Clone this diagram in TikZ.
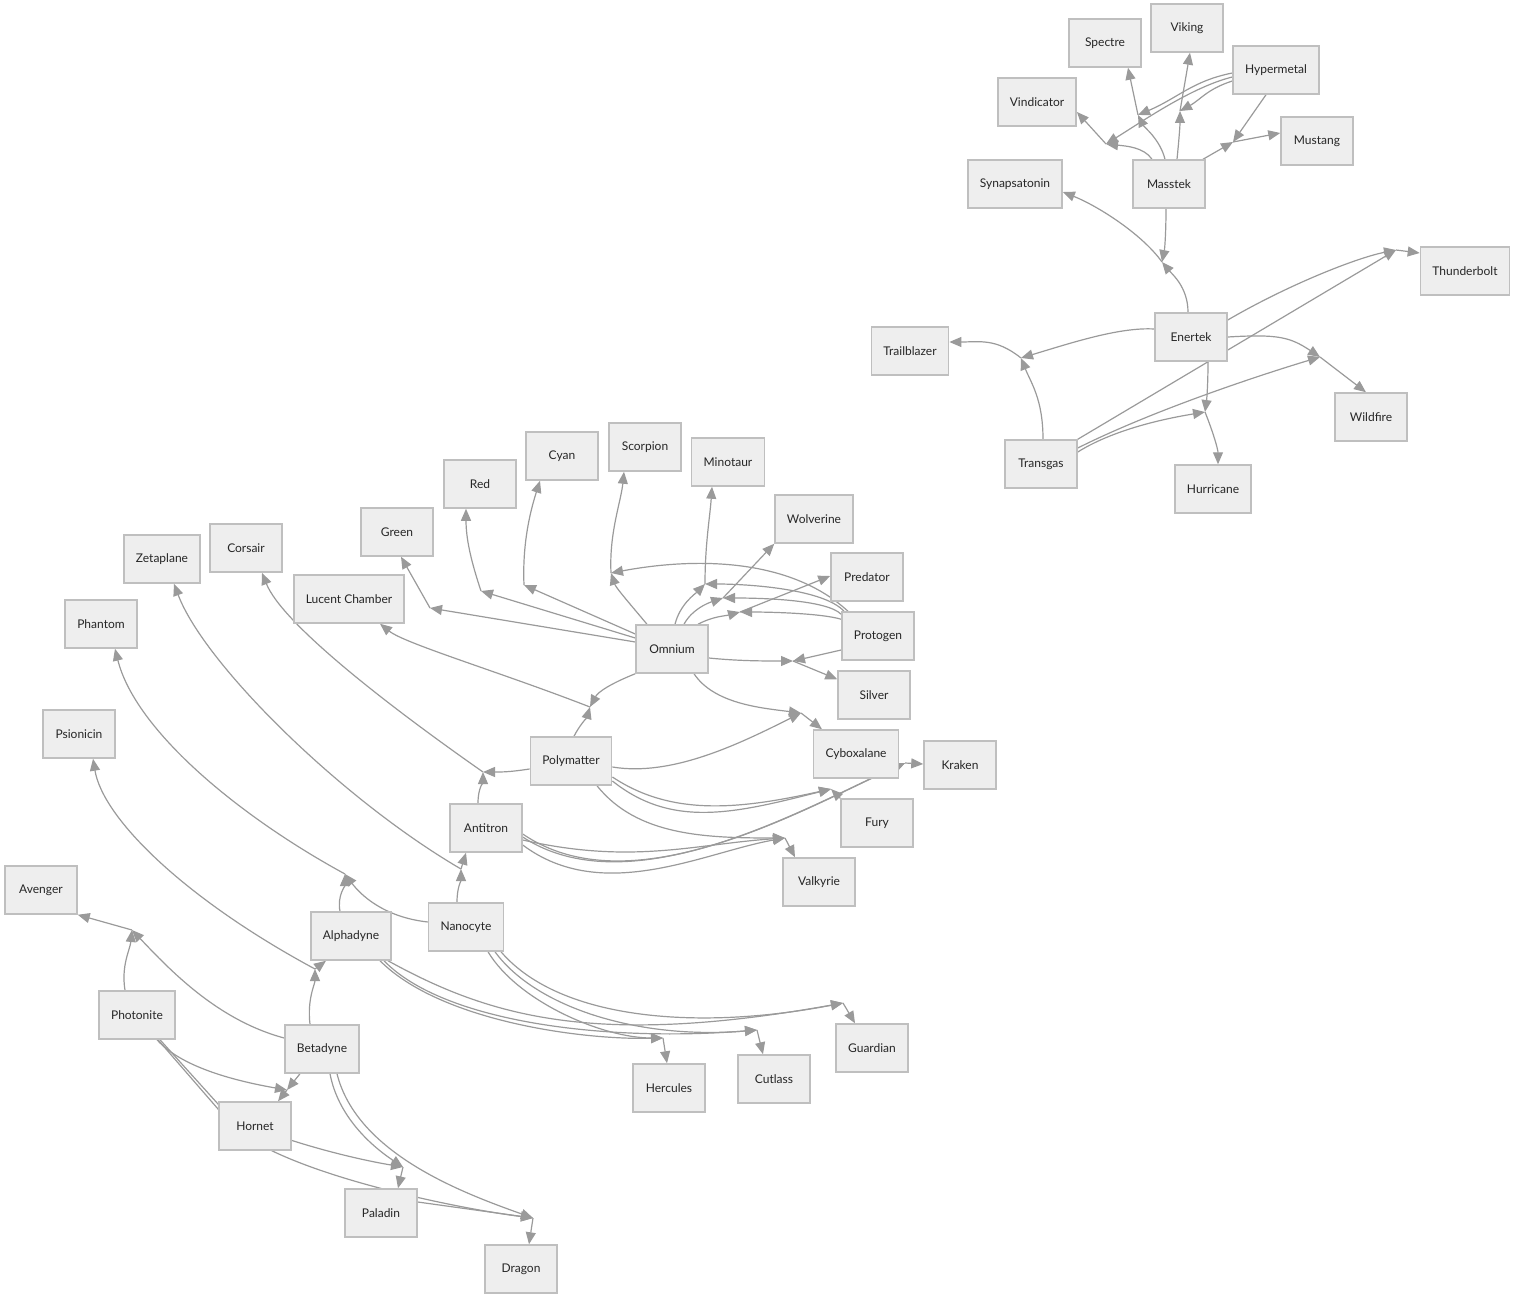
\documentclass[tikz,border=0pt]{standalone}
\usepackage{fontspec}
\setmainfont{Lato}
\usetikzlibrary{arrows.meta,backgrounds}
\definecolor{boxfill}{HTML}{EEEEEE}
\definecolor{boxline}{HTML}{BFBFBF}
\definecolor{linkgray}{HTML}{9A9A9A}
\begin{document}
\begin{tikzpicture}[x=1pt,y=-1pt,>={Triangle[length=12pt,width=10pt]},
  box/.style={draw=boxline,line width=1.5pt,fill=boxfill,minimum width=72pt,minimum height=48pt,inner xsep=12pt,font=\fontsize{12}{14}\selectfont,text=black!85},
  link/.style={draw=linkgray,line width=1.2pt,->}]
  \useasboundingbox (0,0) rectangle (1515,1300);
  \node[box] (spectre) at (1105,43) {Spectre};
  \node[box] (viking) at (1187,28) {Viking};
  \node[box] (hypermetal) at (1276,70) {Hypermetal};
  \node[box] (vindicator) at (1037,102) {Vindicator};
  \node[box] (mustang) at (1317,141) {Mustang};
  \node[box] (synapsatonin) at (1015,184) {Synapsatonin};
  \node[box] (masstek) at (1169,184) {Masstek};
  \node[box] (thunderbolt) at (1465,271) {Thunderbolt};
  \node[box] (trailblazer) at (910,351) {Trailblazer};
  \node[box] (enertek) at (1191,337) {Enertek};
  \node[box] (wildfire) at (1371,417) {Wildfire};
  \node[box] (transgas) at (1041,464) {Transgas};
  \node[box] (hurricane) at (1213,489) {Hurricane};
  \node[box] (scorpion) at (645,447) {Scorpion};
  \node[box] (cyan) at (562,456) {Cyan};
  \node[box] (minotaur) at (728,462) {Minotaur};
  \node[box] (red) at (480,484) {Red};
  \node[box] (wolverine) at (814,519) {Wolverine};
  \node[box] (green) at (397,532) {Green};
  \node[box] (corsair) at (246,548) {Corsair};
  \node[box] (zetaplane) at (162,559) {Zetaplane};
  \node[box] (predator) at (867,577) {Predator};
  \node[box] (lucent) at (349,599) {Lucent Chamber};
  \node[box] (phantom) at (101,624) {Phantom};
  \node[box] (omnium) at (672,649) {Omnium};
  \node[box] (protogen) at (878,636) {Protogen};
  \node[box] (silver) at (874,695) {Silver};
  \node[box] (psionicin) at (79,734) {Psionicin};
  \node[box] (polymatter) at (571,761) {Polymatter};
  \node[box] (cyboxalane) at (856,754) {Cyboxalane};
  \node[box] (kraken) at (960,765) {Kraken};
  \node[box] (fury) at (877,823) {Fury};
  \node[box] (antitron) at (486,828) {Antitron};
  \node[box] (valkyrie) at (819,882) {Valkyrie};
  \node[box] (avenger) at (41,890) {Avenger};
  \node[box] (alphadyne) at (351,936) {Alphadyne};
  \node[box] (nanocyte) at (466,927) {Nanocyte};
  \node[box] (photonite) at (137,1015) {Photonite};
  \node[box] (betadyne) at (322,1049) {Betadyne};
  \node[box] (guardian) at (872,1048) {Guardian};
  \node[box] (cutlass) at (774,1079) {Cutlass};
  \node[box] (hercules) at (669,1088) {Hercules};
  \node[box] (hornet) at (255,1126) {Hornet};
  \node[box] (paladin) at (381,1213) {Paladin};
  \node[box] (dragon) at (521,1269) {Dragon};
  \coordinate (jVin) at (1106,144);
  \coordinate (jSpe) at (1138,115);
  \coordinate (jVik) at (1180,111);
  \coordinate (jMus) at (1233,142);
  \coordinate (jSyn) at (1162,262);
  \coordinate (jThu) at (1396,250);
  \coordinate (jTra) at (1021,358);
  \coordinate (jWil) at (1320,357);
  \coordinate (jHur) at (1205,412);
  \coordinate (jGre) at (430,608);
  \coordinate (jRed) at (481,591);
  \coordinate (jCya) at (524,585);
  \coordinate (jSco) at (611,573);
  \coordinate (jMin) at (705,584);
  \coordinate (jWol) at (723,598);
  \coordinate (jPre) at (740,612);
  \coordinate (jSil) at (793,661);
  \coordinate (jCyb) at (801,713);
  \coordinate (jLuc) at (590,707);
  \coordinate (jCor) at (483,772);
  \coordinate (jZet) at (461,869);
  \coordinate (jFur) at (831,789);
  \coordinate (jKra) at (905,763);
  \coordinate (jVal) at (785,838);
  \coordinate (jPhn) at (345,874);
  \coordinate (jPsi) at (315,969);
  \coordinate (jHer) at (663,1038);
  \coordinate (jCut) at (757,1030);
  \coordinate (jGua) at (843,1003);
  \coordinate (jAve) at (132,930);
  \coordinate (jHor) at (287,1090);
  \coordinate (jPal) at (403,1167);
  \coordinate (jDra) at (533,1218);
  \begin{scope}[on background layer]
    \draw[link] ([xshift=-17pt]masstek.north) .. controls +(-8,-12) and +(20,2) .. (jVin);
    \draw[link] ([yshift=-7pt]hypermetal.west) .. controls +(-40,10) and +(40,-25) .. (jVin);
    \draw[link] (jVin) -- ([yshift=-10pt]vindicator.east);
    \draw[link] ([xshift=-4pt]masstek.north) .. controls +(-5,-20) and +(6,12) .. (jSpe);
    \draw[link] ([yshift=-3pt]hypermetal.west) .. controls +(-40,8) and +(40,-17) .. (jSpe);
    \draw[link] (jSpe) -- ([xshift=23pt]spectre.south);
    \draw[link] ([xshift=8pt]masstek.north) .. controls +(2,-20) and +(0,15) .. (jVik);
    \draw[link] ([yshift=-11pt]hypermetal.west) .. controls +(-25,8) and +(20,-11) .. (jVik);
    \draw[link] (jVik) -- ([xshift=3pt]viking.south);
    \draw[link] ([xshift=-10pt]hypermetal.south) -- (jMus);
    \draw[link] ([xshift=34pt]masstek.north) -- (jMus);
    \draw[link] (jMus) -- ([yshift=8pt]mustang.west);
    \draw[link] ([xshift=-3pt]masstek.south) .. controls +(0,20) and +(3,-15) .. (jSyn);
    \draw[link] ([xshift=-3pt]enertek.north) .. controls +(0,-25) and +(10,12) .. (jSyn);
    \draw[link] (jSyn) .. controls +(-20,-28) and +(35,14) .. ([yshift=-8pt]synapsatonin.east);
    \draw[link] ([yshift=17pt]enertek.east) .. controls +(60,-35) and +(-40,8) .. (jThu);
    \draw[link] (transgas.north east) -- (jThu);
    \draw[link] (jThu) -- ([yshift=18pt]thunderbolt.west);
    \draw[link] ([yshift=8pt]enertek.west) .. controls +(-35,-2) and +(50,-15) .. (jTra);
    \draw[link] ([xshift=2pt]transgas.north) .. controls +(0,-40) and +(10,25) .. (jTra);
    \draw[link] (jTra) .. controls +(-25,-20) and +(30,0) .. ([yshift=9pt]trailblazer.east);
    \draw[link] (enertek.east) .. controls +(50,-3) and +(-30,-20) .. (jWil);
    \draw[link] ([yshift=16pt]transgas.east) .. controls +(80,-40) and +(-50,15) .. (jWil);
    \draw[link] (jWil) -- ([xshift=-5pt]wildfire.north);
    \draw[link] ([xshift=17pt]enertek.south) .. controls +(0,20) and +(2,-15) .. (jHur);
    \draw[link] ([yshift=12pt]transgas.east) .. controls +(40,-25) and +(-30,5) .. (jHur);
    \draw[link] (jHur) .. controls +(8,20) and +(0,-15) .. ([xshift=5pt]hurricane.north);
    \draw[link] ([yshift=7pt]omnium.west) -- (jGre);
    \draw[link] (jGre) -- ([xshift=4pt]green.south);
    \draw[link] ([yshift=11pt]omnium.west) -- (jRed);
    \draw[link] (jRed) .. controls +(-10,-30) and +(0,30) .. ([xshift=-14pt]red.south);
    \draw[link] ([yshift=15pt]omnium.west) -- (jCya);
    \draw[link] (jCya) .. controls +(-2,-45) and +(-8,25) .. ([xshift=-22pt]cyan.south);
    \draw[link] ([xshift=-25pt]omnium.north) .. controls +(-15,-18) and +(5,15) .. (jSco);
    \draw[link] ([xshift=-30pt]protogen.north) .. controls +(-60,-55) and +(80,-15) .. (jSco);
    \draw[link] (jSco) .. controls +(-2,-40) and +(-3,30) .. ([xshift=-21pt]scorpion.south);
    \draw[link] ([xshift=3pt]omnium.north) .. controls +(5,-20) and +(-10,10) .. (jMin);
    \draw[link] ([xshift=-34pt]protogen.north) .. controls +(-20,-22) and +(45,0) .. (jMin);
    \draw[link] (jMin) .. controls +(0,-40) and +(-2,30) .. ([xshift=-16pt]minotaur.south);
    \draw[link] ([xshift=12pt]omnium.north) .. controls +(8,-15) and +(-15,5) .. (jWol);
    \draw[link] ([yshift=-3pt]protogen.north west) .. controls +(-15,-15) and +(35,0) .. (jWol);
    \draw[link] (jWol) -- (wolverine.south west);
    \draw[link] ([xshift=26pt]omnium.north) .. controls +(15,-8) and +(-15,4) .. (jPre);
    \draw[link] ([yshift=-8pt]protogen.north west) .. controls +(-20,-6) and +(30,0) .. (jPre);
    \draw[link] (jPre) -- ([yshift=1pt]predator.west);
    \draw[link] ([yshift=-9pt]omnium.east) .. controls +(30,3) and +(-30,0) .. (jSil);
    \draw[link] ([yshift=-14pt]protogen.west) -- (jSil);
    \draw[link] (jSil) -- ([yshift=-9pt]silver.north west);
    \draw[link] ([xshift=22pt]omnium.south) .. controls +(20,30) and +(-40,-5) .. (jCyb);
    \draw[link] ([yshift=-6pt]polymatter.east) .. controls +(60,10) and +(-60,30) .. (jCyb);
    \draw[link] (jCyb) -- ([xshift=-34pt]cyboxalane.north);
    \draw[link] (omnium.south west) .. controls +(-25,10) and +(8,-15) .. (jLuc);
    \draw[link] ([xshift=3pt]polymatter.north) .. controls +(5,-10) and +(-3,10) .. (jLuc);
    \draw[link] (jLuc) .. controls +(-90,-35) and +(25,20) .. ([xshift=31pt]lucent.south);
    \draw[link] ([yshift=-8pt]polymatter.west) .. controls +(-20,3) and +(20,0) .. (jCor);
    \draw[link] ([xshift=-8pt]antitron.north) .. controls +(0,-15) and +(0,10) .. (jCor);
    \draw[link] (jCor) .. controls +(-100,-70) and +(20,50) .. ([xshift=16pt]corsair.south);
    \draw[link] ([xshift=-9pt]nanocyte.north) .. controls +(0,-15) and +(0,12) .. (jZet);
    \draw[link] (jZet) -- ([xshift=-20pt]antitron.south);
    \draw[link] (jZet) .. controls +(-120,-70) and +(30,80) .. ([xshift=12pt]zetaplane.south);
    \draw[link] ([yshift=-16pt]polymatter.east) .. controls +(60,40) and +(-90,20) .. (jFur);
    \draw[link] ([yshift=-20pt]polymatter.east) .. controls +(60,48) and +(-95,24) .. (jFur);
    \draw[link] (fury.north west) -- (jFur);
    \draw[link] ([yshift=-6pt]antitron.east) .. controls +(110,75) and +(-100,45) .. (jKra);
    \draw[link] ([yshift=-9pt]antitron.east) .. controls +(110,72) and +(-95,42) .. (jKra);
    \draw[link] (jKra) -- ([yshift=1pt]kraken.west);
    \draw[link] ([yshift=-12pt]antitron.east) .. controls +(110,25) and +(-90,6) .. (jVal);
    \draw[link] ([yshift=-17pt]antitron.east) .. controls +(80,60) and +(-80,14) .. (jVal);
    \draw[link] ([xshift=26pt]polymatter.south) .. controls +(40,50) and +(-80,0) .. (jVal);
    \draw[link] (jVal) -- ([xshift=-24pt]valkyrie.north);
    \draw[link] ([xshift=-11pt]alphadyne.north) .. controls +(-3,-15) and +(0,12) .. (jPhn);
    \draw[link] ([yshift=5pt]nanocyte.west) .. controls +(-45,-5) and +(15,20) .. (jPhn);
    \draw[link] (jPhn) .. controls +(-110,-60) and +(20,80) .. ([xshift=14pt]phantom.south);
    \draw[link] ([xshift=-12pt]betadyne.north) .. controls +(-3,-25) and +(0,15) .. (jPsi);
    \draw[link] (jPsi) -- ([xshift=-25pt]alphadyne.south);
    \draw[link] (jPsi) .. controls +(-130,-70) and +(10,60) .. ([xshift=14pt]psionicin.south);
    \draw[link] ([xshift=29pt]alphadyne.south) .. controls +(60,60) and +(-83,2) .. (jHer);
    \draw[link] ([xshift=33pt]alphadyne.south) .. controls +(60,62) and +(-150,12) .. (jCut);
    \draw[link] ([xshift=37pt]alphadyne.south) .. controls +(100,55) and +(-250,45) .. (jGua);
    \draw[link] ([xshift=22pt]nanocyte.south) .. controls +(30,50) and +(-60,0) .. (jHer);
    \draw[link] ([xshift=29pt]nanocyte.south) .. controls +(40,55) and +(-120,10) .. (jCut);
    \draw[link] ([xshift=35pt]nanocyte.south) .. controls +(60,70) and +(-140,27) .. (jGua);
    \draw[link] (jHer) -- ([xshift=-2pt]hercules.north);
    \draw[link] (jCut) -- ([xshift=-11pt]cutlass.north);
    \draw[link] (jGua) -- ([xshift=-17pt]guardian.north);
    \draw[link] ([xshift=-12pt]photonite.north) .. controls +(-4,-25) and +(-2,20) .. (jAve);
    \draw[link] ([yshift=11pt]betadyne.west) .. controls +(-67,-18) and +(38,40) .. (jAve);
    \draw[link] (jAve) -- (avenger.south east);
    \draw[link] ([xshift=20pt]photonite.south) .. controls +(23,26) and +(-57,-10) .. (jHor);
    \draw[link] ([xshift=-22pt]betadyne.south) -- (jHor);
    \draw[link] (jHor) -- ([xshift=23pt]hornet.north);
    \draw[link] ([xshift=21pt]photonite.south) -- ([yshift=-8pt]hornet.north west) .. controls +(40,25) and +(-60,-10) .. (jPal);
    \draw[link] ([xshift=8pt]betadyne.south) .. controls +(8,42) and +(-33,-22) .. (jPal);
    \draw[link] (jPal) -- ([xshift=17pt]paladin.north);
    \draw[link] ([xshift=23pt]photonite.south) -- ([yshift=-3pt]hornet.north west) .. controls +(15,60) and +(-80,-10) .. (jDra);
    \draw[link] ([xshift=15pt]betadyne.south) .. controls +(20,80) and +(-70,-25) .. (jDra);
    \draw[link] ([yshift=11pt]paladin.east) -- (jDra);
    \draw[link] (jDra) -- ([xshift=8pt]dragon.north);
  \end{scope}
\end{tikzpicture}
\end{document}
